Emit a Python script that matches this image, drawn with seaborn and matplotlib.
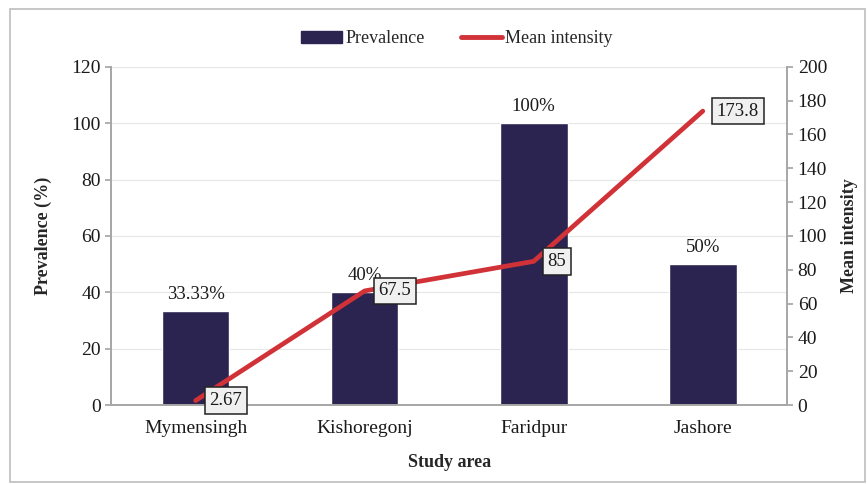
import numpy as np
import seaborn as sns
import matplotlib.pyplot as plt
from matplotlib.patches import Patch
from matplotlib.lines import Line2D

# data
areas = ["Mymensingh", "Kishoregonj", "Faridpur", "Jashore"]
prevalence = [33.33, 40, 100, 50]
prevalence_labels = ["33.33%", "40%", "100%", "50%"]
mean_intensity = [2.67, 67.5, 85, 173.8]
intensity_labels = ["2.67", "67.5", "85", "173.8"]

sns.set_theme(style="white")
plt.rcParams["font.family"] = ["Liberation Serif", "DejaVu Serif"]

bar_color = "#2b2350"
line_color = "#d13237"
axis_color = "#a6a6a6"

fig = plt.figure(figsize=(8.68, 4.84), dpi=100)
ax = fig.add_axes([0.128, 0.163, 0.779, 0.699])

sns.barplot(x=areas, y=prevalence, color=bar_color, width=0.4, saturation=1, ax=ax)
ax.set_ylim(0, 120)
ax.set_yticks(range(0, 121, 20))
ax.yaxis.grid(True, color="#e6e6e6", linewidth=0.8)
ax.set_axisbelow(True)
for i, (v, lab) in enumerate(zip(prevalence, prevalence_labels)):
    ax.annotate(lab, (i, v), xytext=(0, 6), textcoords="offset points",
                ha="center", va="bottom", fontsize=13.5, color="#1a1a1a")

ax2 = ax.twinx()
sns.lineplot(x=np.arange(len(areas)), y=mean_intensity, color=line_color,
             linewidth=3.4, ax=ax2)
ax2.set_ylim(0, 200)
ax2.set_yticks(range(0, 201, 20))
ax2.set_xlim(-0.5, len(areas) - 0.5)
for i, (v, lab) in enumerate(zip(mean_intensity, intensity_labels)):
    ax2.annotate(lab, (i, v), xytext=(10, 0), textcoords="offset points",
                 ha="left", va="center", fontsize=13.5, color="#1a1a1a",
                 bbox=dict(boxstyle="square,pad=0.25", fc="#f0f0f0",
                           ec="#222222", lw=1.1))

for a in (ax, ax2):
    a.spines["top"].set_visible(False)
    for s in ("left", "right", "bottom"):
        a.spines[s].set_color(axis_color)
        a.spines[s].set_linewidth(1.2)
    a.tick_params(axis="both", labelsize=14, colors="#1a1a1a",
                  length=4, color=axis_color)

ax.tick_params(axis="x", length=0, pad=11)
ax.set_xlabel("Study area", fontsize=13, fontweight="bold", labelpad=12)
ax.set_ylabel("Prevalence (%)", fontsize=13, fontweight="bold", labelpad=14)
ax2.set_ylabel("Mean intensity", fontsize=13, fontweight="bold", labelpad=10)

handles = [Patch(color=bar_color, label="Prevalence"),
           Line2D([], [], color=line_color, linewidth=3.5, label="Mean intensity")]
fig.legend(handles=handles, loc="center", bbox_to_anchor=(0.526, 0.92), ncol=2,
           frameon=False, fontsize=13, handlelength=2.3, handletextpad=0.15,
           columnspacing=2.0)

# outer frame around the whole chart
fig.patches.append(plt.Rectangle((0.011, 0.005), 0.985, 0.976, transform=fig.transFigure,
                                 fill=False, ec="#bdbdbd", lw=1.2))

fig.savefig("out.png", dpi=100)
